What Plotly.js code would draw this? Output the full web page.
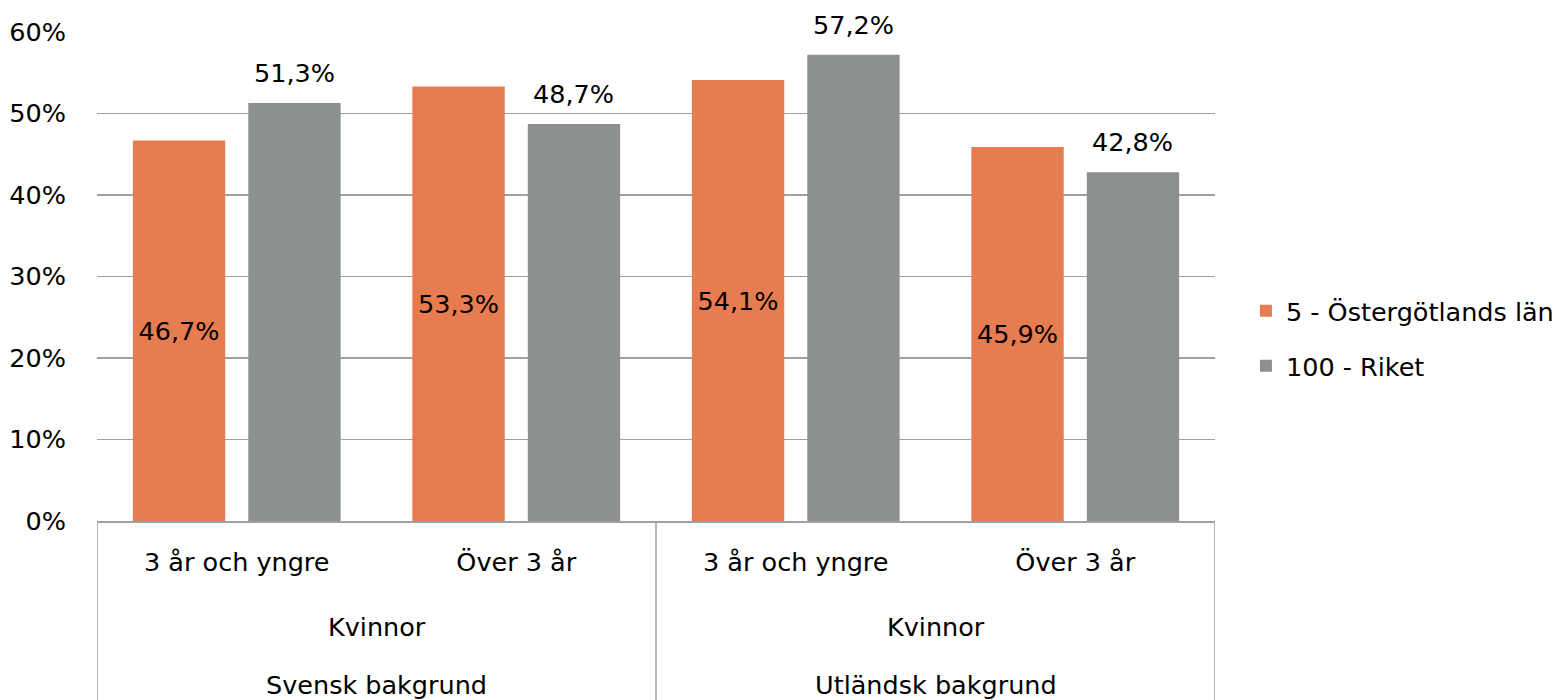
<!DOCTYPE html>
<html>
<head>
<meta charset="utf-8">
<script src="https://cdn.plot.ly/plotly-3.0.1.min.js"></script>
<style>html,body{margin:0;padding:0;background:#fff;}#chart{width:1558px;height:700px;}</style>
</head>
<body>
<div id="chart"></div>
<script>
var ageLabels = ["3 år och yngre", "Över 3 år", "3 år och yngre", "Över 3 år"];
var genderLabels = ["Kvinnor", "Kvinnor"];
var backgroundLabels = ["Svensk bakgrund", "Utländsk bakgrund"];
var seriesNames = ["5 - Östergötlands län", "100 - Riket"];
var ostergotland = [46.7, 53.3, 54.1, 45.9];
var riket = [51.3, 48.7, 57.2, 42.8];
var yTicks = [0, 10, 20, 30, 40, 50, 60];

var FONT = "'DejaVu Sans', sans-serif";
var FS = 25.5;
function fmt(v){ return v.toFixed(1).replace('.', ',') + '%'; }

var xIdx = ageLabels.map(function(_, i){ return i; });

var traces = [
  {
    type: 'bar', name: seriesNames[0], x: xIdx, y: ostergotland,
    marker: {color: '#E67C50'},
    text: ostergotland.map(fmt), textposition: 'inside', insidetextanchor: 'middle',
    textfont: {family: FONT, size: FS, color: '#000'},
    legendgroup: 'a', hoverinfo: 'none'
  },
  {
    type: 'bar', name: seriesNames[1], x: xIdx, y: riket,
    marker: {color: '#8C918E'},
    legendgroup: 'b', hoverinfo: 'none'
  }
];

var annotations = [];
riket.forEach(function(v, i){
  annotations.push({x: i, y: v, xref: 'x', yref: 'y', text: fmt(v), showarrow: false,
    xshift: 57.5, yshift: 30, font: {family: FONT, size: FS, color: '#000'}});
});
var bottomFrac = 179 / 489;
genderLabels.forEach(function(t, i){
  annotations.push({x: i * 2 + 0.5, y: 0, xref: 'x', yref: 'paper', yanchor: 'middle', yshift: -106,
    text: t, showarrow: false, font: {family: FONT, size: FS, color: '#000'}});
});
backgroundLabels.forEach(function(t, i){
  annotations.push({x: i * 2 + 0.5, y: 0, xref: 'x', yref: 'paper', yanchor: 'middle', yshift: -164,
    text: t, showarrow: false, font: {family: FONT, size: FS, color: '#000'}});
});

var shapes = [];
[-0.5, 1.5, 3.5].forEach(function(xv){
  shapes.push({type: 'line', xref: 'x', yref: 'paper', x0: xv, x1: xv, y0: 0, y1: -bottomFrac - 0.01,
    line: {color: '#A0A0A0', width: 1.5}});
});

var layout = {
  width: 1558, height: 700,
  margin: {l: 97, r: 343, t: 32, b: 179, autoexpand: false},
  paper_bgcolor: '#fff', plot_bgcolor: '#fff',
  barmode: 'group', bargap: 0.174, bargroupgap: 0.2,
  font: {family: FONT, size: FS, color: '#000'},
  xaxis: {
    tickvals: xIdx, ticktext: ageLabels, range: [-0.5, 3.5],
    showgrid: false, zeroline: false, showline: true, linecolor: '#A0A0A0', linewidth: 1.5,
    ticks: '', ticklabelstandoff: 18, tickfont: {family: FONT, size: FS, color: '#000'}
  },
  yaxis: {
    range: [0, 60], tickvals: yTicks, ticktext: yTicks.map(function(v){ return v + '%'; }),
    showgrid: true, gridcolor: '#A0A0A0', gridwidth: 1.5, zeroline: false, showline: false,
    ticks: '', ticklabelstandoff: 30, tickfont: {family: FONT, size: FS, color: '#000'}
  },
  showlegend: true,
  legend: {xref: 'container', x: 0.7997, xanchor: 'left', y: 0.373, yanchor: 'middle', traceorder: 'grouped', tracegroupgap: 19,
    font: {family: FONT, size: FS, color: '#000'}, itemwidth: 30},
  annotations: annotations,
  shapes: shapes
};

Plotly.newPlot('chart', traces, layout, {displayModeBar: false, staticPlot: true});
</script>
</body>
</html>
